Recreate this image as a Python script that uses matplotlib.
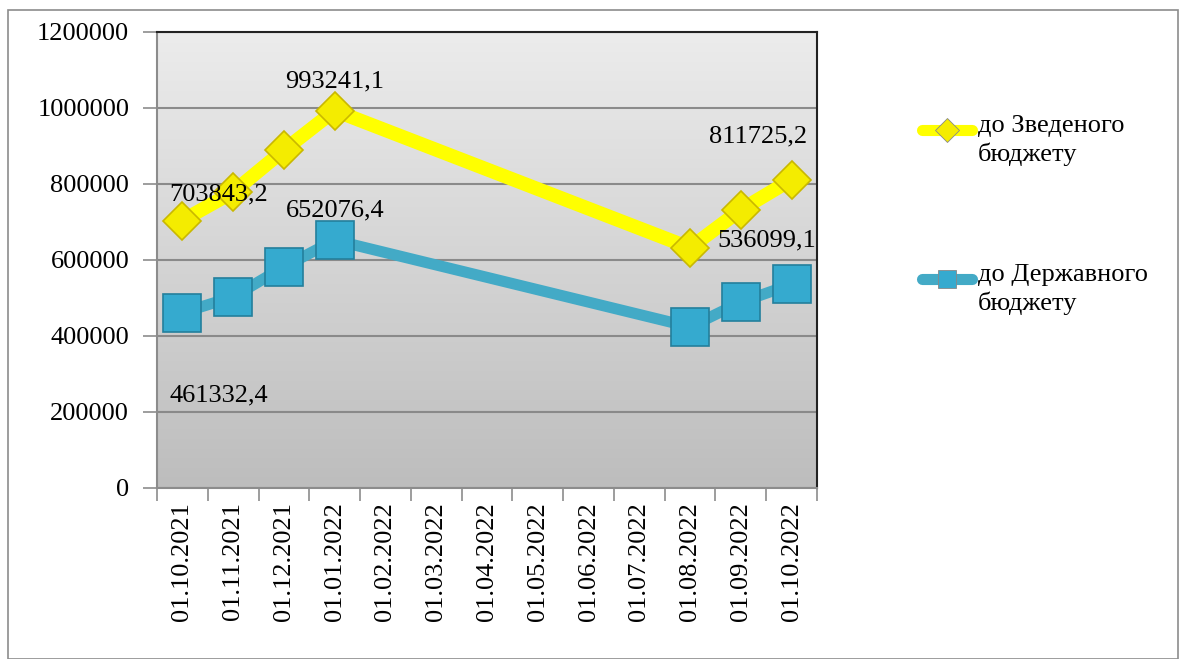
import matplotlib
matplotlib.use("Agg")
import matplotlib.pyplot as plt
import numpy as np
from matplotlib.lines import Line2D
from matplotlib.patches import Rectangle

plt.rcParams['font.family'] = ['Liberation Serif', 'DejaVu Serif']

# categories on the x axis
dates = ["01.10.2021", "01.11.2021", "01.12.2021", "01.01.2022", "01.02.2022",
         "01.03.2022", "01.04.2022", "01.05.2022", "01.06.2022", "01.07.2022",
         "01.08.2022", "01.09.2022", "01.10.2022"]

# dates that have values
point_dates = ["01.10.2021", "01.11.2021", "01.12.2021", "01.01.2022",
               "01.08.2022", "01.09.2022", "01.10.2022"]
zved = [703843.2, 779000, 889000, 993241.1, 632000, 732000, 811725.2]
derzh = [461332.4, 503000, 582000, 652076.4, 424000, 489000, 536099.1]

zved_labels = {0: "703843,2", 3: "993241,1", 6: "811725,2"}
derzh_labels = {0: "461332,4", 3: "652076,4", 6: "536099,1"}

yellow = "#ffff00"
blue = "#43aac6"
fs = 19

fig = plt.figure(figsize=(11.8, 6.59), dpi=100)
fig.add_artist(Rectangle((8 / 1180, 0), 1170 / 1180, 649 / 659, transform=fig.transFigure,
                         fill=False, edgecolor="#8c8c8c", linewidth=1.2))

ax = fig.add_axes([157 / 1180, 1 - 488 / 659, 660 / 1180, 456 / 659])

# gradient background
grad = np.linspace(0, 1, 256).reshape(-1, 1)
ax.imshow(grad, extent=[0, 1, 0, 1], transform=ax.transAxes, aspect="auto",
          cmap=matplotlib.colors.LinearSegmentedColormap.from_list("g", ["#ececec", "#bdbdbd"]),
          zorder=0)

x = [dates.index(d) for d in point_dates]

ax.plot(x, zved, color=yellow, linewidth=10, solid_capstyle="round", zorder=3)
ax.plot(x, zved, linestyle="none", marker="D", markersize=19, markerfacecolor="#f4ec00",
        markeredgecolor="#c9b800", markeredgewidth=1.2, zorder=4)
ax.plot(x, derzh, color=blue, linewidth=8, solid_capstyle="round", zorder=3)
ax.plot(x, derzh, linestyle="none", marker="s", markersize=27, markerfacecolor="#35aacf",
        markeredgecolor="#237f9c", markeredgewidth=1.2, zorder=4)

# data labels
offs_z = {0: (36, 26), 3: (0, 29), 6: (-34, 43)}
for i, t in zved_labels.items():
    ax.annotate(t, (x[i], zved[i]), xytext=offs_z[i], textcoords="offset pixels",
                ha="center", va="center", fontsize=fs, zorder=5)
offs_d = {0: (36, -83), 3: (0, 30), 6: (-25, 44)}
for i, t in derzh_labels.items():
    ax.annotate(t, (x[i], derzh[i]), xytext=offs_d[i], textcoords="offset pixels",
                ha="center", va="center", fontsize=fs, zorder=5)

ax.set_xlim(-0.5, len(dates) - 0.5)
ax.set_ylim(0, 1200000)
ax.set_yticks(np.arange(0, 1200001, 200000))
ax.set_yticklabels([str(v) for v in range(0, 1200001, 200000)], fontsize=fs)
ax.set_xticks(range(len(dates)))
ax.set_xticklabels(dates, rotation=90, fontsize=fs)
ax.set_xticks(np.arange(-0.5, len(dates), 1), minor=True)
ax.tick_params(axis="x", which="major", length=0, pad=10)
ax.tick_params(axis="x", which="minor", length=9, width=1.2, color="#8c8c8c")
ax.tick_params(axis="y", length=10, width=1.2, color="#8c8c8c", pad=10)

ax.grid(axis="y", color="#8a8a8a", linewidth=1.5, zorder=1)
ax.set_axisbelow(True)
for s in ["left", "bottom"]:
    ax.spines[s].set_color("#8c8c8c")
    ax.spines[s].set_linewidth(1.5)
for s in ["top", "right"]:
    ax.spines[s].set_color("#222222")
    ax.spines[s].set_linewidth(1.5)

# legend drawn by hand
entries = [("до Зведеного\nбюджету", yellow, "D", "#f4ec00", 12, 130),
           ("до Державного\nбюджету", blue, "s", "#35aacf", 13, 279)]
for label, col, mk, fc, ms, ypix in entries:
    yf = 1 - ypix / 659
    fig.add_artist(Line2D([922 / 1180, 972 / 1180], [yf, yf], transform=fig.transFigure,
                          color=col, linewidth=8, solid_capstyle="round"))
    fig.add_artist(Line2D([947 / 1180], [yf], transform=fig.transFigure, marker=mk,
                          markersize=ms, markerfacecolor=fc, markeredgecolor="#888888",
                          markeredgewidth=0.6, linestyle="none"))
    fig.text(978 / 1180, yf + 15 / 659, label, fontsize=fs, va="top", ha="left",
             linespacing=1.3)

fig.savefig("out.png", dpi=100)
